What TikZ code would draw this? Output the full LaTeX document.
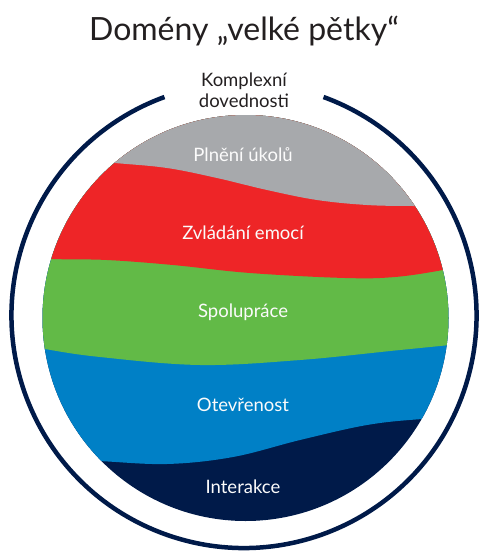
\documentclass[tikz,border=0pt]{standalone}
\usepackage{fontspec}
\setmainfont{Lato}
\usetikzlibrary{positioning}
\definecolor{bigGray}{HTML}{A7A9AC}
\definecolor{bigRed}{HTML}{EE2527}
\definecolor{bigGreen}{HTML}{62BA47}
\definecolor{bigBlue}{HTML}{0080C6}
\definecolor{bigNavy}{HTML}{001A49}
\definecolor{titleGray}{HTML}{231F20}
\tikzset{
    bandlabel/.style={font=\fontsize{18.5}{22}\selectfont, text=white!95!bigGray},
    ringlabel/.style={font=\fontsize{18.5}{21}\selectfont, text=titleGray, align=center}
}

\begin{document}
\begin{tikzpicture}[x=1pt,y=-1pt]
    \useasboundingbox (0,0) rectangle (480,551);

    % title
    \node[font=\fontsize{32}{38}\selectfont, text=titleGray] (title) at (244,31) {Domény „velké pětky“};

    % outer ring with a gap at the top
    \coordinate (ring) at (244,315.5);
    \draw[line width=4.5pt, bigNavy] (ring) ++(-70:232.5) arc[start angle=-70, end angle=250, radius=232.5];
    \node[ringlabel] (complex) at (244,90) {Komplexní\\dovednosti};

    % the five bands inside the disk
    \coordinate (disk) at (245.5,318);
    \begin{scope}
        \clip (disk) circle[radius=203];
        \fill[bigNavy] (0,100) rectangle (480,540);
        \fill[bigBlue] (0,100) -- (0,458) -- plot[smooth, tension=0.6] coordinates {(40,459) (98,461) (167,464) (233,457) (300,440) (367,425) (422,419) (480,416)} -- (480,100) -- cycle;
        \fill[bigGreen] (0,100) -- (0,340) -- plot[smooth, tension=0.6] coordinates {(0,340) (45,349) (100,357) (200,365) (300,360) (400,350) (480,342)} -- (480,100) -- cycle;
        \fill[bigRed] (0,100) -- (0,256) -- plot[smooth, tension=0.6] coordinates {(0,256) (52,259) (107,260) (173,265) (250,273) (345,278) (395,277) (443,270) (480,262)} -- (480,100) -- cycle;
        \fill[bigGray] (0,100) -- (0,156) -- plot[smooth, tension=0.6] coordinates {(60,158) (115,163) (167,168) (217,178) (267,190) (317,200) (367,205) (413,206) (480,206)} -- (480,100) -- cycle;
    \end{scope}

    % band labels
    \node[bandlabel] (tasks) at (243,155) {Plnění úkolů};
    \node[bandlabel] (emotions) at (243,233) {Zvládání emocí};
    \node[bandlabel] (cooperation) at (243,312) {Spolupráce};
    \node[bandlabel] (openness) at (243,405) {Otevřenost};
    \node[bandlabel] (interaction) at (243,487) {Interakce};
\end{tikzpicture}
\end{document}
